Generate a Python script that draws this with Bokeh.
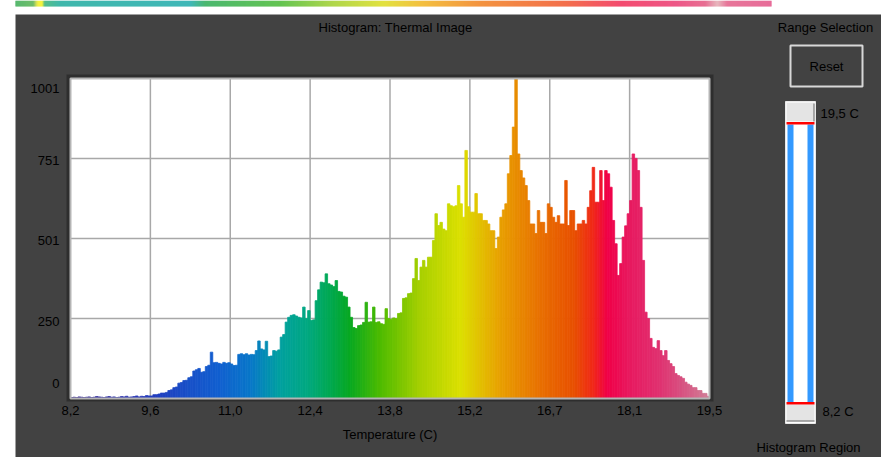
import numpy as np
from bokeh.plotting import figure
from bokeh.models import Range1d, ColumnDataSource
from bokeh.core.properties import value
from bokeh.embed import file_html
from bokeh.resources import INLINE

# ---------------- data ----------------
t_min, t_max = 8.2, 19.5
y_max = 1001
counts = [
    3, 4, 3, 5, 4, 3, 4, 5, 3, 4, 6, 5, 4, 3, 5, 6, 4, 5, 3, 4, 6, 5, 7, 4, 5, 6, 8, 5, 7, 6, 9, 8,
    8, 12, 12, 14, 17, 17, 19, 25, 27, 34, 36, 48, 50, 56, 57, 65, 68, 86, 90, 94, 82, 84, 100, 104, 145, 112, 113, 110, 108, 113, 110, 112,
    108, 103, 104, 138, 140, 137, 140, 136, 138, 137, 150, 180, 155, 152, 179, 131, 133, 150, 148, 152, 192, 200, 239, 254, 260, 262, 258, 254, 252, 286, 250, 275,
    244, 246, 306, 340, 364, 362, 390, 359, 355, 350, 369, 335, 333, 320, 317, 286, 254, 222, 219, 228, 230, 238, 301, 239, 240, 286, 238, 240, 234, 232, 281, 250,
    248, 252, 250, 266, 268, 313, 315, 328, 330, 375, 438, 369, 411, 432, 411, 442, 442, 494, 578, 541, 551, 530, 525, 609, 603, 600, 603, 666, 609, 567, 776, 600,
    583, 583, 641, 578, 578, 557, 557, 546, 525, 525, 469, 505, 567, 590, 609, 703, 760, 849, 1001, 765, 713, 690, 666, 619, 546, 546, 516, 588, 551, 551, 516, 609,
    598, 567, 551, 572, 546, 546, 682, 541, 588, 588, 525, 546, 546, 557, 546, 598, 650, 723, 614, 614, 713, 619, 713, 703, 661, 557, 484, 385, 422, 505, 540, 578,
    619, 765, 751, 713, 598, 432, 270, 250, 188, 160, 156, 181, 150, 134, 150, 119, 109, 100, 78, 72, 68, 63, 51, 45, 41, 34, 34, 25, 25, 16, 16, 7,
]
x_tick_values = [8.2, 9.6125, 11.025, 12.4375, 13.85, 15.2625, 16.675, 18.0875, 19.5]
x_tick_labels = ["8,2", "9,6", "11,0", "12,4", "13,8", "15,2", "16,7", "18,1", "19,5"]
y_tick_values = [0, 250.25, 500.5, 750.75, 1001]
y_tick_labels = ["0", "250", "501", "751", "1001"]
title_text = "Histogram: Thermal Image"
x_label_text = "Temperature (C)"
range_hi_label = "19,5 C"
range_lo_label = "8,2 C"

# ---------------- layout / style ----------------
W, H = 881, 457
PL, PR, PT, PB = 70, 709, 78, 398          # histogram frame in page pixels
FONT = value("Liberation Sans")
FS = "13px"
BG = "#424242"
TXT = "#000000"

def hex2rgb(h):
    h = h.lstrip("#")
    return np.array([int(h[i:i + 2], 16) for i in (0, 2, 4)], dtype=float)

def ramp(positions, stops):
    xs = np.array([s[0] for s in stops], dtype=float)
    cs = np.array([hex2rgb(s[1]) for s in stops])
    out = []
    for q in positions:
        rgb = [np.interp(q, xs, cs[:, k]) for k in range(3)]
        out.append("#%02x%02x%02x" % tuple(int(round(v)) for v in rgb))
    return out

bar_palette = [
    (8.2, "#3a2a90"), (9.4, "#2a38b8"), (9.8, "#2040c0"), (10.3, "#1850c8"),
    (10.85, "#1060d0"), (11.4, "#0878c8"), (11.9, "#00a0a0"), (12.4, "#00a880"),
    (12.8, "#00a850"), (13.15, "#08a820"), (13.7, "#50bc00"), (14.4, "#a8d000"),
    (15.1, "#dce000"), (15.8, "#e8a000"), (16.5, "#e87000"), (17.1, "#e85000"),
    (17.45, "#f02818"), (17.7, "#f00048"), (18.1, "#e81a60"), (18.6, "#e0306f"),
    (19.0, "#d85080"), (19.5, "#d08098"),
]
strip_palette = [
    (15, "#20a040"), (33, "#40a838"), (36, "#c8d820"), (38, "#f0f000"), (42, "#f0f000"),
    (44, "#20a860"), (60, "#00a090"), (190, "#00a0a0"), (205, "#10a040"), (280, "#30b018"),
    (330, "#90c810"), (383, "#d8d800"), (423, "#f0a800"), (480, "#f07000"), (565, "#f04010"),
    (620, "#f01040"), (676, "#e82060"), (705, "#e04070"), (717, "#e0a0a8"), (727, "#e04878"),
    (771, "#e03c78"),
]

# histogram ranges chosen so that data lands on the frame [PL..PR] x [PT..PB]
sx = (t_max - t_min) / (PR - PL)
sy = y_max / (PB - PT)
hx = Range1d(t_min - PL * sx, t_min + (W - PL) * sx)
hy = Range1d((PB - H) * sy, PB * sy)

p = figure(width=W, height=H, x_range=Range1d(0, W), y_range=Range1d(H, 0),
           x_axis_type=None, y_axis_type=None, output_backend="svg",
           toolbar_location=None, min_border=0, title=None,
           background_fill_color="white", border_fill_color="white",
           outline_line_color=None)
p.extra_x_ranges = {"hx": hx}
p.extra_y_ranges = {"hy": hy}

# page panel + top colour strip
p.quad(left=15, right=W, top=14, bottom=H, fill_color=BG, line_color=None)
xs_strip = np.arange(15, 771)
p.quad(left=xs_strip, right=xs_strip + 1, top=0, bottom=6,
       fill_color=ramp(xs_strip + 0.5, strip_palette), line_color=None)

# histogram frame
p.quad(left=PL - 4, right=PR + 4, top=PT - 4, bottom=PB + 3, fill_color="#2e2e2e", line_color=None)
p.quad(left=t_min, right=t_max, bottom=0, top=y_max, fill_color="white", line_color=None,
       x_range_name="hx", y_range_name="hy")
p.segment(x0=x_tick_values[1:-1], x1=x_tick_values[1:-1], y0=0, y1=y_max,
          line_color="#a8a8a8", line_width=1.5, x_range_name="hx", y_range_name="hy")
p.segment(x0=t_min, x1=t_max, y0=y_tick_values[1:-1], y1=y_tick_values[1:-1],
          line_color="#a8a8a8", line_width=1.5, x_range_name="hx", y_range_name="hy")

edges = np.linspace(t_min, t_max, len(counts) + 1)
centers = 0.5 * (edges[:-1] + edges[1:])
bar_colors = ramp(centers, bar_palette)
src = ColumnDataSource(dict(left=edges[:-1], right=edges[1:], top=counts, color=bar_colors))
p.quad(left="left", right="right", top="top", bottom=0, source=src,
       fill_color="color", line_color="color", line_width=0.8,
       x_range_name="hx", y_range_name="hy")
p.quad(left=t_min, right=t_max, bottom=0, top=y_max, fill_color=None,
       line_color="#b4b4b4", line_width=2, x_range_name="hx", y_range_name="hy")

# reset button
p.quad(left=790, right=862, top=45, bottom=86, fill_color=BG, line_color="#d8d8d8", line_width=2)

# range slider
p.quad(left=785, right=815, top=101, bottom=423, fill_color="white", line_color="#e8e8e8", line_width=1)
p.quad(left=[787, 807], right=[793, 813], top=124, bottom=402, fill_color="#3399ff", line_color=None)
p.quad(left=786, right=814, top=[102, 404], bottom=[121, 421], fill_color="#e4e4e4",
       line_color="#f4f4f4", line_width=1)
p.segment(x0=[813.5, 786], x1=[813.5, 814], y0=[103, 420.5], y1=[121, 420.5],
          line_color="#7a7a7a", line_width=1.2)
p.quad(left=786, right=814, top=[121.5, 401.5], bottom=[124, 404], fill_color="#ff0000", line_color=None)

# tick labels
y_nudge = [-15, 3, 2, 2, 10]
p.text(x=[t_min] * len(y_tick_values), y=y_tick_values, text=y_tick_labels,
       x_offset=-11, y_offset=y_nudge, text_align="right", text_baseline="middle",
       text_font=FONT, text_font_size=FS, text_color=TXT,
       x_range_name="hx", y_range_name="hy")
p.text(x=x_tick_values, y=[0] * len(x_tick_values), text=x_tick_labels,
       y_offset=12, text_align="center", text_baseline="middle",
       text_font=FONT, text_font_size=FS, text_color=TXT,
       x_range_name="hx", y_range_name="hy")
p.text(x=[(t_min + t_max) / 2], y=[0], text=[x_label_text], y_offset=36,
       text_align="center", text_baseline="middle", text_font=FONT,
       text_font_size=FS, text_color=TXT, x_range_name="hx", y_range_name="hy")

# title + right panel texts (page pixels)
p.text(x=[395, 825, 826, 808], y=[27, 27, 66, 447],
       text=[title_text, "Range Selection", "Reset", "Histogram Region"],
       text_align="center", text_baseline="middle", text_font=FONT,
       text_font_size=FS, text_color=TXT)
p.text(x=[820, 822], y=[113, 411], text=[range_hi_label, range_lo_label],
       text_align="left", text_baseline="middle", text_font=FONT,
       text_font_size=FS, text_color=TXT)

open("out.html", "w").write(file_html(p, INLINE))
